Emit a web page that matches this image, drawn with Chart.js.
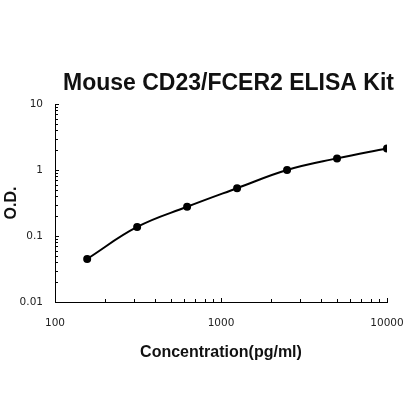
<!DOCTYPE html>
<html><head><meta charset="utf-8">
<script src="https://cdn.jsdelivr.net/npm/chart.js@4"></script>
<style>html,body{margin:0;padding:0;background:#fff}</style>
</head><body>
<canvas id="c" width="420" height="420"></canvas>
<script>
const titleText = 'Mouse CD23/FCER2 ELISA Kit';
const xTitle = 'Concentration(pg/ml)';
const yTitle = 'O.D.';
const concentrations = [156.25, 312.5, 625, 1250, 2500, 5000, 10000];
const odValues = [0.045, 0.137, 0.277, 0.53, 1.0, 1.50, 2.12];
const xTickValues = [100,200,300,400,500,600,700,800,900,1000,2000,3000,4000,5000,6000,7000,8000,9000,10000];
const xTickLabels = [100, 1000, 10000];
const yTickValues = [0.01,0.02,0.03,0.04,0.05,0.06,0.07,0.08,0.09,0.1,0.2,0.3,0.4,0.5,0.6,0.7,0.8,0.9,1,2,3,4,5,6,7,8,9,10];
const yTickLabels = [0.01, 0.1, 1, 10];

function near(v, arr){ return arr.some(a => Math.abs(a - v) / a < 1e-6); }

const innerTicks = {
  id: 'innerTicks',
  beforeDatasetsDraw(chart) {
    const {ctx, chartArea: a, scales: {x, y}} = chart;
    ctx.save();
    ctx.strokeStyle = '#000';
    ctx.lineWidth = 1;
    ctx.beginPath();
    x.ticks.forEach(t => {
      const px = Math.round(x.getPixelForValue(t.value)) + 0.5;
      const len = near(t.value, xTickLabels) ? 4 : 3;
      ctx.moveTo(px, a.bottom);
      ctx.lineTo(px, a.bottom - len);
    });
    y.ticks.forEach(t => {
      const py = Math.round(y.getPixelForValue(t.value)) + 0.5;
      const len = near(t.value, yTickLabels) ? 4 : 3;
      ctx.moveTo(a.left, py);
      ctx.lineTo(a.left + len, py);
    });
    ctx.stroke();
    ctx.restore();
  }
};

const titlePlugin = {
  id: 'topTitle',
  afterDraw(chart) {
    const ctx = chart.ctx;
    ctx.save();
    ctx.fillStyle = '#111';
    ctx.font = 'bold 23px "Liberation Sans", Arial, sans-serif';
    ctx.textAlign = 'center';
    ctx.textBaseline = 'middle';
    ctx.fillText(titleText, 228.5, 84);
    ctx.restore();
  }
};

new Chart(document.getElementById('c'), {
  type: 'line',
  data: {
    datasets: [{
      data: concentrations.map((c, i) => ({x: c, y: odValues[i]})),
      borderColor: '#000',
      backgroundColor: '#000',
      borderWidth: 2,
      pointRadius: 3,
      pointHoverRadius: 3,
      pointBackgroundColor: '#000',
      pointBorderColor: '#000',
      tension: 0.4,
      fill: false
    }]
  },
  options: {
    responsive: false,
    animation: false,
    devicePixelRatio: 1,
    layout: {padding: {top: 104, right: 33, left: 0, bottom: 0}},
    plugins: {legend: {display: false}, tooltip: {enabled: false}, title: {display: false}},
    scales: {
      x: {
        type: 'logarithmic',
        min: 100, max: 10000,
        afterBuildTicks: s => { s.ticks = xTickValues.map(v => ({value: v})); },
        afterFit: s => { s.height = 118; },
        grid: {display: true, drawOnChartArea: false, drawTicks: false},
        border: {display: true, color: '#000', width: 1},
        ticks: {
          autoSkip: false, maxRotation: 0, padding: 15,
          color: '#222',
          font: {family: '"DejaVu Sans", sans-serif', size: 10.5},
          callback: v => near(v, xTickLabels) ? String(v) : ''
        },
        title: {display: true, text: xTitle, color: '#111',
          font: {family: '"Liberation Sans", Arial, sans-serif', size: 16, weight: 'bold'},
          padding: {top: 0, bottom: 58}}
      },
      y: {
        type: 'logarithmic',
        min: 0.01, max: 10,
        afterBuildTicks: s => { s.ticks = yTickValues.map(v => ({value: v})); },
        afterFit: s => { s.width = 55; },
        grid: {display: true, drawOnChartArea: false, drawTicks: false},
        border: {display: true, color: '#000', width: 1},
        ticks: {
          autoSkip: false, padding: 12,
          color: '#222',
          font: {family: '"DejaVu Sans", sans-serif', size: 10.5},
          callback: v => near(v, yTickLabels) ? String(v) : ''
        },
        title: {display: true, text: yTitle, color: '#111',
          font: {family: '"Liberation Sans", Arial, sans-serif', size: 16, weight: 'bold'},
          padding: {top: 2, bottom: 0}}
      }
    }
  },
  plugins: [innerTicks, titlePlugin]
});
</script>
</body></html>
